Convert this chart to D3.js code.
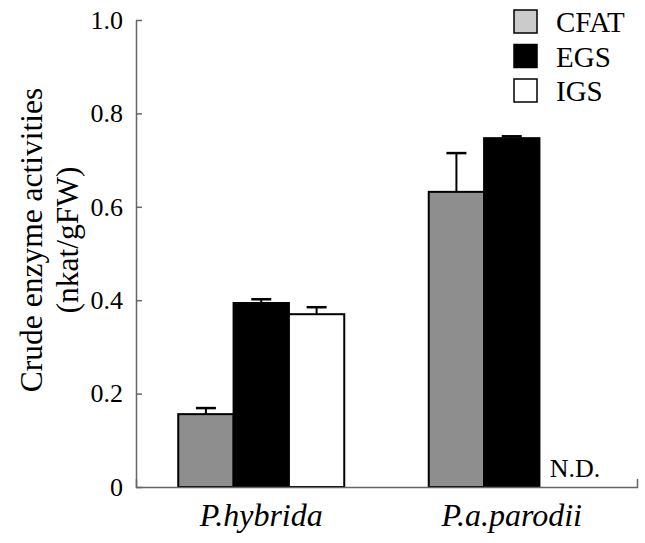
<!DOCTYPE html>
<html>
<head>
<meta charset="utf-8">
<script src="https://cdn.jsdelivr.net/npm/d3@7"></script>
<style>
  body { margin: 0; background: #fff; }
</style>
</head>
<body>
<div id="chart"></div>
<script>
"use strict";

// Data
const species = ["P.hybrida", "P.a.parodii"];
const enzymes = ["CFAT", "EGS", "IGS"];
const meanValues = {
  "P.hybrida": [0.156, 0.394, 0.370],
  "P.a.parodii": [0.632, 0.747, null], // IGS not detected
};
const errorValues = {
  "P.hybrida": [0.013, 0.008, 0.015],
  "P.a.parodii": [0.083, 0.004, null],
};
const yTicks = [0, 0.2, 0.4, 0.6, 0.8, 1.0];
const barColours = ["#8e8e8e", "#000000", "#ffffff"];
const legendColours = ["#cbcbcb", "#000000", "#ffffff"];

const FONT = "'Liberation Serif', 'Times New Roman', Times, 'DejaVu Serif', serif";

function _main() {
  const WIDTH = 645;
  const HEIGHT = 543;
  const LEFT = 136;
  const RIGHT = 637;
  const TOP = 20;
  const BOTTOM = 487;

  const svg = d3
    .select("#chart")
    .append("svg")
    .attr("width", WIDTH)
    .attr("height", HEIGHT)
    .style("font-family", FONT);

  const xScale = d3.scaleBand().domain(species).range([LEFT, RIGHT]);
  const groupInner = 166;
  const xSub = d3
    .scaleBand()
    .domain(enzymes)
    .range([(xScale.bandwidth() - groupInner) / 2, (xScale.bandwidth() + groupInner) / 2]);
  const yScale = d3.scaleLinear().domain([0, 1]).range([BOTTOM, TOP]);

  addBars(svg, xScale, xSub, yScale);
  addAxes(svg, xScale, yScale, LEFT, BOTTOM);
  addLegend(svg);

  svg.selectAll("text").style("font-family", FONT).attr("fill", "#000");
}

function addBars(svg, xScale, xSub, yScale) {
  const rows = [];
  species.forEach((s) => {
    enzymes.forEach((e, i) => {
      rows.push({ species: s, enzyme: e, index: i, y: meanValues[s][i], err: errorValues[s][i] });
    });
  });
  const present = rows.filter((d) => d.y !== null);
  const mid = (d) => xScale(d.species) + xSub(d.enzyme) + xSub.bandwidth() / 2;

  const g = svg.append("g");
  g.selectAll("rect.bar")
    .data(present)
    .enter()
    .append("rect")
    .attr("class", "bar")
    .attr("x", (d) => xScale(d.species) + xSub(d.enzyme))
    .attr("y", (d) => yScale(d.y))
    .attr("width", xSub.bandwidth())
    .attr("height", (d) => yScale(0) - yScale(d.y))
    .attr("fill", (d) => barColours[d.index])
    .attr("stroke", "#000")
    .attr("stroke-width", 2);

  // error bars (upper only)
  const capHalf = 10;
  const errG = g.selectAll("g.err").data(present).enter().append("g").attr("class", "err");
  errG
    .append("line")
    .attr("x1", mid)
    .attr("x2", mid)
    .attr("y1", (d) => yScale(d.y))
    .attr("y2", (d) => yScale(d.y + d.err))
    .attr("stroke", "#000")
    .attr("stroke-width", 2);
  errG
    .append("line")
    .attr("x1", (d) => mid(d) - capHalf)
    .attr("x2", (d) => mid(d) + capHalf)
    .attr("y1", (d) => yScale(d.y + d.err))
    .attr("y2", (d) => yScale(d.y + d.err))
    .attr("stroke", "#000")
    .attr("stroke-width", 2.5);

  // N.D. for missing values
  g.selectAll("text.nd")
    .data(rows.filter((d) => d.y === null))
    .enter()
    .append("text")
    .attr("class", "nd")
    .attr("x", (d) => mid(d) + 8)
    .attr("y", yScale(0) - 10)
    .attr("text-anchor", "middle")
    .attr("font-size", 26)
    .text("N.D.");
}

function addAxes(svg, xScale, yScale, LEFT, BOTTOM) {
  // bottom x axis
  const xAxis = svg
    .append("g")
    .attr("transform", `translate(0, ${BOTTOM})`)
    .call(d3.axisBottom(xScale).tickSizeInner(0).tickSizeOuter(-8));
  xAxis.select(".domain").attr("stroke", "#666").attr("stroke-width", 1.5);
  xAxis
    .selectAll("text")
    .attr("y", 39)
    .attr("dy", 0)
    .attr("font-size", 32)
    .attr("font-style", "italic");

  // left y axis
  const yAxis = svg
    .append("g")
    .attr("transform", `translate(${LEFT}, 0)`)
    .call(
      d3
        .axisLeft(yScale)
        .tickValues(yTicks)
        .tickSizeInner(-6)
        .tickSizeOuter(0)
        .tickPadding(13)
        .tickFormat((d) => (d === 0 ? "0" : d3.format(".1f")(d)))
    );
  yAxis.select(".domain").attr("stroke", "#666").attr("stroke-width", 1.5);
  yAxis.selectAll(".tick line").attr("stroke", "#666").attr("stroke-width", 1.5);
  yAxis.selectAll("text").attr("font-size", 26);

  // y axis title, two lines
  const title = svg
    .append("text")
    .attr("transform", "translate(0, 240) rotate(-90)")
    .attr("text-anchor", "middle")
    .attr("font-size", 31.5);
  title.append("tspan").attr("x", 0).attr("y", 42).text("Crude enzyme activities");
  title.append("tspan").attr("x", 0).attr("y", 78).text("(nkat/gFW)");
}

function addLegend(svg) {
  const legend = svg
    .selectAll("g.legend")
    .data(enzymes)
    .enter()
    .append("g")
    .attr("class", "legend")
    .attr("transform", (d, i) => `translate(514, ${10 + i * 34.5})`);
  legend
    .append("rect")
    .attr("width", 23)
    .attr("height", 23)
    .attr("fill", (d, i) => legendColours[i])
    .attr("stroke", "#000")
    .attr("stroke-width", 1.5);
  legend
    .append("text")
    .attr("x", 42)
    .attr("y", 22)
    .attr("font-size", 29)
    .text((d) => d);
}

_main();
</script>
</body>
</html>
